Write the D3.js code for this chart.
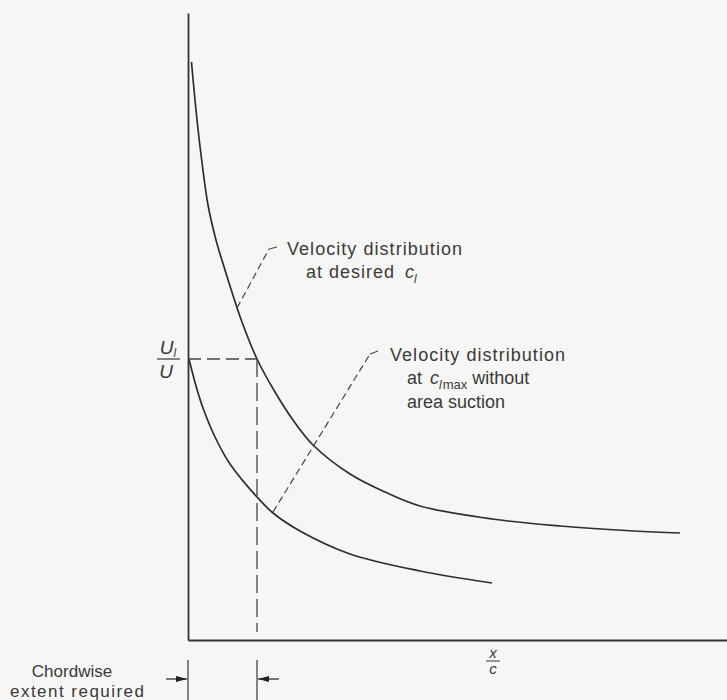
<!DOCTYPE html>
<html>
<head>
<meta charset="utf-8">
<script src="https://cdn.jsdelivr.net/npm/d3@7"></script>
<style>
  body { margin: 0; background: #f6f6f4; }
  text { font-family: 'Liberation Sans', Arial, sans-serif; fill: #3a3a3a; }
  .it { font-style: italic; }
</style>
</head>
<body>
<div class="canvas"></div>
<script>
// velocity distribution at desired cl (x/c, U/U0 in chart units)
const upperX = [0.007, 0.017, 0.028, 0.040, 0.056, 0.074, 0.108, 0.138, 0.174, 0.210, 0.250, 0.324, 0.394, 0.464, 0.608, 0.744, 0.892, 0.984];
const upperY = [1.156, 1.050, 0.955, 0.870, 0.800, 0.740, 0.636, 0.562, 0.496, 0.440, 0.390, 0.332, 0.296, 0.268, 0.242, 0.228, 0.218, 0.214];

// velocity distribution at cl max without area suction
const lowerX = [0.002, 0.016, 0.030, 0.054, 0.084, 0.138, 0.170, 0.224, 0.324, 0.464, 0.608];
const lowerY = [0.562, 0.508, 0.464, 0.406, 0.352, 0.286, 0.254, 0.218, 0.172, 0.138, 0.114];

// design level U_l/U and required chordwise extent
const ulLevel = 0.562;
const chordX = 0.138;

const margin = { top: 13, right: 0, bottom: 60, left: 188 };
const width = 727, height = 700;
const graphWidth = width - margin.left - margin.right;
const graphHeight = height - margin.top - margin.bottom;

const svg = d3.select('.canvas').append('svg')
  .attr('width', width)
  .attr('height', height);

svg.append('rect')
  .attr('width', width).attr('height', height)
  .attr('fill', '#f6f6f4');

const graph = svg.append('g')
  .attr('transform', `translate(${margin.left},${margin.top})`);

// 500px per unit on both axes
const x = d3.scaleLinear().domain([0, graphWidth / 500]).range([0, graphWidth]);
const y = d3.scaleLinear().domain([0, graphHeight / 500]).range([graphHeight, 0]);

// axes - no ticks, just the lines
const xAxis = d3.axisBottom(x).tickValues([]).tickSizeOuter(0);
const yAxis = d3.axisLeft(y).tickValues([]).tickSizeOuter(0);

graph.append('g')
  .attr('transform', `translate(0,${graphHeight})`)
  .call(xAxis)
  .select('.domain').attr('stroke', '#333').attr('stroke-width', 1.8);
graph.append('g')
  .call(yAxis)
  .select('.domain').attr('stroke', '#333').attr('stroke-width', 1.8);

const line = d3.line()
  .x(d => x(d[0]))
  .y(d => y(d[1]))
  .curve(d3.curveCatmullRom.alpha(0.5));

const upper = upperX.map((v, i) => [v, upperY[i]]);
const lower = lowerX.map((v, i) => [v, lowerY[i]]);

graph.selectAll('path.curve')
  .data([upper, lower])
  .enter().append('path')
    .attr('class', 'curve')
    .attr('fill', 'none')
    .attr('stroke', '#2e2e2e')
    .attr('stroke-width', 1.7)
    .attr('d', line);

// dashed construction lines
graph.append('line')
  .attr('x1', x(0)).attr('x2', x(chordX))
  .attr('y1', y(ulLevel)).attr('y2', y(ulLevel))
  .attr('stroke', '#444').attr('stroke-width', 1.3)
  .style('stroke-dasharray', '13,6');
graph.append('line')
  .attr('x1', x(chordX)).attr('x2', x(chordX))
  .attr('y1', y(ulLevel)).attr('y2', y(0.016))
  .attr('stroke', '#444').attr('stroke-width', 1.3)
  .style('stroke-dasharray', '18,6');

// leaders to the labels
const leaders = [
  { from: [0.098, 0.664], to: [0.162, 0.782], hook: [0.178, 0.786] },
  { from: [0.170, 0.256], to: [0.364, 0.572], hook: [0.380, 0.578] }
];
leaders.forEach(l => {
  graph.append('line')
    .attr('x1', x(l.from[0])).attr('y1', y(l.from[1]))
    .attr('x2', x(l.to[0])).attr('y2', y(l.to[1]))
    .attr('stroke', '#444').attr('stroke-width', 1.2)
    .style('stroke-dasharray', '7,4');
  graph.append('line')
    .attr('x1', x(l.to[0])).attr('y1', y(l.to[1]))
    .attr('x2', x(l.hook[0])).attr('y2', y(l.hook[1]))
    .attr('stroke', '#444').attr('stroke-width', 1.2);
});

// label 1
svg.append('text')
  .attr('x', 287).attr('y', 255)
  .attr('font-size', 18).attr('textLength', 175)
  .text('Velocity distribution');
const l1b = svg.append('text')
  .attr('x', 306).attr('y', 278)
  .attr('font-size', 18);
l1b.append('tspan').attr('textLength', 88).text('at desired');
l1b.append('tspan').attr('class', 'it').attr('dx', 10).text('c');
l1b.append('tspan').attr('class', 'it').attr('font-size', 12).attr('dy', 5).text('l');

// label 2
svg.append('text')
  .attr('x', 390).attr('y', 361)
  .attr('font-size', 18).attr('textLength', 175)
  .text('Velocity distribution');
const l2b = svg.append('text')
  .attr('x', 407).attr('y', 384)
  .attr('font-size', 18);
l2b.append('tspan').text('at');
l2b.append('tspan').attr('class', 'it').attr('dx', 8).text('c');
l2b.append('tspan').attr('class', 'it').attr('font-size', 12).attr('dy', 5).text('l');
l2b.append('tspan').attr('font-size', 13).attr('dx', 1).text('max');
l2b.append('tspan').attr('dy', -5).attr('dx', 5).text('without');
svg.append('text')
  .attr('x', 407).attr('y', 408)
  .attr('font-size', 18)
  .text('area suction');

// U_l / U label
const uc = 168;
const ul = svg.append('text')
  .attr('x', uc).attr('y', 354)
  .attr('text-anchor', 'middle')
  .attr('font-size', 19).attr('class', 'it');
ul.append('tspan').text('U');
ul.append('tspan').attr('font-size', 12).attr('dy', 3).text('l');
svg.append('line')
  .attr('x1', uc - 11).attr('x2', uc + 12)
  .attr('y1', 359).attr('y2', 359)
  .attr('stroke', '#444').attr('stroke-width', 1.3);
svg.append('text')
  .attr('x', uc - 2).attr('y', 378)
  .attr('text-anchor', 'middle')
  .attr('font-size', 19).attr('class', 'it')
  .text('U');

// x/c label
const xc = margin.left + x(0.61);
svg.append('text')
  .attr('x', xc).attr('y', 658)
  .attr('text-anchor', 'middle')
  .attr('font-size', 15).attr('class', 'it')
  .text('x');
svg.append('line')
  .attr('x1', xc - 7).attr('x2', xc + 7)
  .attr('y1', 661).attr('y2', 661)
  .attr('stroke', '#555').attr('stroke-width', 1.2);
svg.append('text')
  .attr('x', xc).attr('y', 674)
  .attr('text-anchor', 'middle')
  .attr('font-size', 15).attr('class', 'it')
  .text('c');

// chordwise extent dimension marks
const dimY = 679;
[0, chordX].forEach(v => {
  svg.append('line')
    .attr('x1', margin.left + x(v)).attr('x2', margin.left + x(v))
    .attr('y1', 660).attr('y2', 700)
    .attr('stroke', '#444').attr('stroke-width', 1.3);
});
const arrow = (xTip, dir) => {
  const tail = xTip - dir * 21;
  svg.append('line')
    .attr('x1', tail).attr('x2', xTip)
    .attr('y1', dimY).attr('y2', dimY)
    .attr('stroke', '#333').attr('stroke-width', 1.3);
  svg.append('path')
    .attr('d', `M${xTip},${dimY} L${xTip - dir * 11},${dimY - 3} L${xTip - dir * 11},${dimY + 3} Z`)
    .attr('fill', '#222');
};
arrow(margin.left + x(0) - 1, 1);
arrow(margin.left + x(chordX) + 1, -1);

svg.append('text')
  .attr('x', 72).attr('y', 677)
  .attr('text-anchor', 'middle')
  .attr('font-size', 17)
  .text('Chordwise');
svg.append('text')
  .attr('x', 77).attr('y', 697)
  .attr('text-anchor', 'middle')
  .attr('font-size', 17).attr('textLength', 134)
  .text('extent required');
</script>
</body>
</html>
